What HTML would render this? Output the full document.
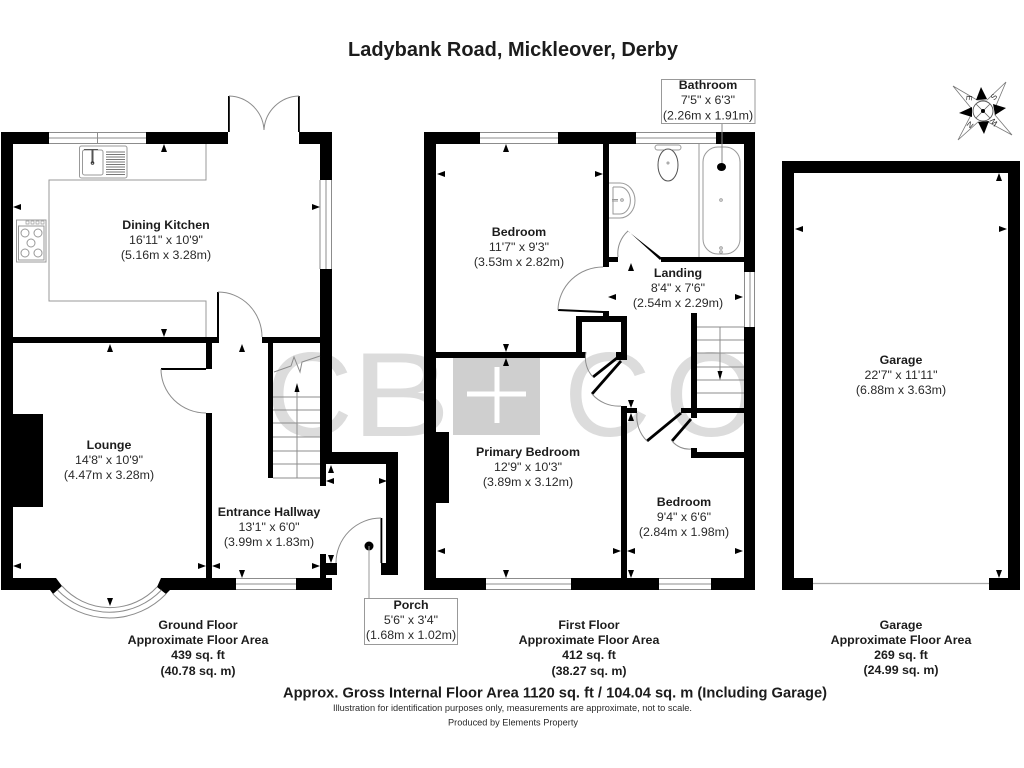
<!DOCTYPE html>
<html><head><meta charset="utf-8"><style>
html,body{margin:0;padding:0;background:#fff}
svg{display:block}
text{font-family:"Liberation Sans",sans-serif;font-size:12.4px;fill:#2a2a2a;text-anchor:middle;dominant-baseline:central}
.b{font-weight:bold;fill:#1c1c1c}
.w{font-size:120px;fill:#dcdcdc;text-anchor:start;dominant-baseline:auto}
.t{fill:none;stroke:#8c8c8c;stroke-width:1}
.g{fill:none;stroke:#999;stroke-width:1}
</style></head><body>
<svg width="1024" height="768" viewBox="0 0 1024 768" xmlns="http://www.w3.org/2000/svg">
<defs>
<polygon id="u" points="0,-4 3,4 -3,4" fill="#000"/>
<polygon id="d" points="0,4 3,-4 -3,-4" fill="#000"/>
<polygon id="l" points="-4,0 4,-3 4,3" fill="#000"/>
<polygon id="r" points="4,0 -4,-3 -4,3" fill="#000"/>
</defs>
<rect width="1024" height="768" fill="#fff"/>

<!-- watermark -->
<text class="w" x="266" y="436">C</text>
<text class="w" x="0" y="436" transform="translate(351 0) scale(1.25 1)">B</text>
<rect x="453" y="358" width="87" height="77" fill="#cfcfcf"/>
<rect x="467" y="391.500" width="59" height="5" fill="#fff"/>
<rect x="494.500" y="367" width="5" height="56" fill="#fff"/>
<text class="w" x="564" y="436">C</text>
<text class="w" x="665" y="436">O</text>

<!-- GROUND FLOOR -->
<g fill="#000">
<rect x="1" y="132" width="12" height="458"/>
<rect x="1" y="132" width="48" height="12"/>
<rect x="146" y="132" width="82" height="12"/>
<rect x="299" y="132" width="33" height="12"/>
<rect x="320" y="132" width="12" height="48"/>
<rect x="320" y="269" width="12" height="183"/>
<rect x="320" y="452" width="78" height="12"/>
<rect x="320" y="452" width="6" height="34"/>
<rect x="386" y="452" width="12" height="123"/>
<rect x="381" y="563" width="17" height="12"/>
<rect x="13" y="337" width="205" height="6"/>
<rect x="262" y="337" width="58" height="6"/>
<rect x="206" y="337" width="6" height="32"/>
<rect x="206" y="413" width="6" height="165"/>
<rect x="268" y="337" width="5" height="141"/>
<rect x="13" y="414" width="30" height="93"/>
<rect x="320" y="554" width="6" height="24"/>
<rect x="320" y="563" width="17" height="12"/>
<rect x="296" y="578" width="36" height="12"/>
<polygon points="1,578 56,578 62,586 53,594 50,590 1,590"/>
<polygon points="161,578 236,578 236,590 170,590 166,594 157,587"/>
<rect x="228" y="96" width="1.800" height="36"/>
<rect x="298" y="96" width="1.800" height="36"/>
<rect x="217" y="292" width="2" height="51"/>
<rect x="161" y="368" width="45" height="2"/>
<rect x="380.500" y="518" width="1.800" height="45"/>
</g>
<!-- ground windows -->
<g class="t">
<path d="M49 132.500H146M49 138H146M49 143.500H146M97.500 132V144"/>
<path d="M320 180V269M326 180V269M331.500 180V269"/>
<path d="M236 578.500H296M236 584H296M236 589.500H296"/>
<path d="M229 96A36 36 0 0 1 264 130M299 96A36 36 0 0 0 264 130"/>
<path d="M218 292A44 45 0 0 1 262 337"/>
<path d="M161 369A45 44 0 0 0 206 413"/>
<path d="M381 518A45 45 0 0 0 336 563"/>
<path d="M62 586A64 64 0 0 0 157 587M57.500 590A72 72 0 0 0 161.500 590M53 594A78.500 78.500 0 0 0 166 594"/>
</g>
<!-- units -->
<g class="g">
<path d="M206 144V180H49V301H206V337"/>
<rect x="79.500" y="146" width="47.500" height="32" rx="2"/>
<rect x="82.500" y="150" width="20.500" height="25" rx="2"/>
<rect x="16.500" y="220" width="29.500" height="42"/>
<rect x="18.500" y="226" width="25.500" height="34"/>
<circle cx="25" cy="233" r="4"/><circle cx="38" cy="233" r="4"/><circle cx="31" cy="243" r="4"/><circle cx="25" cy="253" r="4"/><circle cx="38" cy="253" r="4"/>
<path d="M26 221h3v3h-3zM31 221h3v3h-3zM36 221h3v3h-3zM41 221h3v3h-3z" stroke-width=".7"/>
<path d="M106 152H125M106 154.500H125M106 157H125M106 159.500H125M106 162H125M106 164.500H125M106 167H125M106 169.500H125M106 172H125M106 174.500H125" stroke="#777"/>
<path d="M84 149.500H98" stroke="#555"/>
<path d="M92.500 149V163" stroke="#555" stroke-width="2"/>
<circle cx="92.500" cy="163" r="1.300" stroke="#333"/>
</g>
<!-- ground stairs -->
<g class="t" stroke="#777">
<path d="M273 397H320M273 410H320M273 423H320M273 437H320M273 451H320M273 464H320M273 478H320"/>
<path d="M297 478V390"/>
<path d="M274 372L291 366L294 357L300 372L302 362L320 356"/>
</g>
<polygon points="297,383 294.500,392 299.500,392" fill="#000"/>
<circle cx="369" cy="546" r="4.500" fill="#000"/>
<path d="M369 546V598" stroke="#999"/>
<rect x="364.500" y="598.500" width="93" height="46" fill="#fff" stroke="#999"/>

<!-- FIRST FLOOR -->
<g fill="#000">
<rect x="424" y="132" width="12" height="458"/>
<rect x="424" y="132" width="56" height="12"/>
<rect x="558" y="132" width="78" height="12"/>
<rect x="716" y="132" width="39" height="12"/>
<rect x="744" y="132" width="11" height="140"/>
<rect x="744" y="327" width="11" height="263"/>
<rect x="424" y="578" width="62" height="12"/>
<rect x="571" y="578" width="88" height="12"/>
<rect x="711" y="578" width="44" height="12"/>
<rect x="603" y="144" width="6" height="123"/>
<rect x="603" y="257" width="15" height="5"/>
<rect x="661" y="257" width="83" height="5"/>
<polygon points="627,230 629,232 662,258 660,260"/>
<polygon points="558,309 603,311 603,313 558,311"/>
<rect x="603" y="311" width="6" height="6"/>
<rect x="576" y="316" width="51" height="6"/>
<rect x="576" y="316" width="6" height="42"/>
<rect x="621" y="316" width="6" height="44"/>
<rect x="436" y="352" width="150" height="6"/>
<rect x="616" y="352" width="11" height="8"/>
<rect x="621" y="406" width="6" height="172"/>
<rect x="621" y="408" width="16" height="5"/>
<rect x="681" y="408" width="63" height="5"/>
<rect x="691" y="313" width="6" height="105"/>
<rect x="691" y="448" width="6" height="10"/>
<rect x="691" y="452" width="53" height="6"/>
<rect x="436" y="432" width="13" height="71"/>
<polygon points="616,357 618,359 594,378 592,376"/>
<polygon points="620,360 622,362 593,395 591,393"/>
<polygon points="680,412 682,414 648,442 646,440"/>
<polygon points="690,418 692,420 673,442 671,440"/>
</g>
<g class="t">
<path d="M480 132.500H558M480 138H558M480 143.500H558"/>
<path d="M636 132.500H716M636 138H716M636 143.500H716"/>
<path d="M486 578.500H571M486 584H571M486 589.500H571"/>
<path d="M659 578.500H711M659 584H711M659 589.500H711"/>
<path d="M744.500 272V327M750 272V327M754.500 272V327"/>
<path d="M628 231A30 30 0 0 0 618 257"/>
<path d="M603 267A45 44 0 0 0 558 310"/>
<path d="M586 352A28 28 0 0 0 593 377"/>
<path d="M592 394A35 35 0 0 0 621 406"/>
<path d="M637 413A34 34 0 0 0 647 441"/>
<path d="M672 441A22 22 0 0 0 691 449"/>
<path d="M697 327H744M697 340H744M697 353H744M697 367H744M697 380H744M697 393H744"/>
<path d="M720 327V372"/>
</g>
<polygon points="720,380 717.500,371 722.500,371" fill="#000"/>
<!-- bathroom fixtures -->
<g class="g" stroke="#777">
<path d="M699 144V257"/>
<rect x="703" y="147" width="37" height="107" rx="15"/>
<rect x="655" y="145" width="26" height="5" rx="2.500"/>
<ellipse cx="668" cy="165" rx="10" ry="16" fill="#fff" stroke="#555"/>
<circle cx="668" cy="163" r="1"/>
<path d="M609 183H620A15 17.500 0 0 1 620 218H609"/>
<path d="M613 187H620A10 13 0 0 1 620 214H613V187"/>
<circle cx="622" cy="200" r="1.300"/><path d="M612 199.500H618M612 201H618"/>
<circle cx="721" cy="200" r="1.300"/><circle cx="721" cy="248" r="1.300"/><circle cx="721" cy="252" r="1.300"/>
</g>
<path d="M722 123V167" stroke="#888"/>
<ellipse cx="721.500" cy="167" rx="4.500" ry="4" fill="#000"/>
<rect x="661.500" y="79.500" width="93.500" height="44" fill="#fff" stroke="#999"/>

<!-- GARAGE -->
<g fill="#000">
<rect x="782" y="161" width="238" height="12"/>
<rect x="782" y="161" width="12" height="429"/>
<rect x="1008" y="161" width="12" height="429"/>
<rect x="782" y="578" width="31" height="12"/>
<rect x="989" y="578" width="31" height="12"/>
</g>
<path d="M813 583.500H989" stroke="#aaa" stroke-width="1.200"/>

<!-- compass -->
<polygon points="953,86 977,100 987,100 1006,82 995,108 995,115 1012,135 988,122 978,122 958,140 971,115 971,108" fill="#fff" stroke="#777" stroke-width=".8"/>
<circle cx="983" cy="111" r="10" fill="#fff" stroke="#555" stroke-width=".9"/>
<path d="M976 104L990 118M990 104L976 118" stroke="#666" stroke-width=".8"/>
<g fill="#000">
<polygon points="981,87 976,100 987,99"/>
<polygon points="1006,108 993,104 995,115"/>
<polygon points="984,134 978,122 989,121"/>
<polygon points="959,113 972,107 972,117"/>
<circle cx="983" cy="111" r="2"/>
</g>
<text x="969" y="98" style="font-size:8px" transform="rotate(95 969 98)">E</text>
<text x="994" y="97" style="font-size:8px" transform="rotate(-50 994 97)">S</text>
<text x="994" y="122" style="font-size:8px" transform="rotate(-130 994 122)">W</text>
<text x="970" y="125" style="font-size:8px" transform="rotate(40 970 125)">N</text>

<!-- dimension arrows -->
<use href="#u" x="164" y="148"/><use href="#d" x="164" y="333"/><use href="#l" x="17" y="207"/><use href="#r" x="316" y="207"/>
<use href="#u" x="110" y="348"/><use href="#l" x="17" y="566"/><use href="#r" x="202" y="566"/><use href="#d" x="110" y="602"/>
<use href="#u" x="242" y="348"/><use href="#l" x="216" y="566"/><use href="#r" x="316" y="566"/><use href="#d" x="242" y="574"/>
<use href="#u" x="331" y="469"/><use href="#l" x="330" y="481"/><use href="#r" x="383" y="481"/><use href="#d" x="331" y="559"/>
<use href="#u" x="506" y="148"/><use href="#l" x="441" y="174"/><use href="#r" x="599" y="174"/><use href="#d" x="506" y="348"/>
<use href="#u" x="631" y="267"/><use href="#l" x="612" y="297"/><use href="#r" x="739" y="297"/><use href="#d" x="631" y="404"/>
<use href="#u" x="506" y="362"/><use href="#l" x="441" y="551"/><use href="#r" x="617" y="551"/><use href="#d" x="506" y="574"/>
<use href="#u" x="631" y="417"/><use href="#l" x="631" y="551"/><use href="#r" x="739" y="551"/><use href="#d" x="631" y="574"/>
<use href="#u" x="999" y="177"/><use href="#l" x="799" y="229"/><use href="#r" x="1003" y="229"/><use href="#d" x="999" y="574"/>

<!-- labels -->
<text class="b" x="513" y="50" style="font-size:20px" textLength="330" lengthAdjust="spacingAndGlyphs">Ladybank Road, Mickleover, Derby</text>

<text class="b" x="166" y="225">Dining Kitchen</text><text x="166" y="240">16'11" x 10'9"</text><text x="166" y="255">(5.16m x 3.28m)</text>
<text class="b" x="109" y="445">Lounge</text><text x="109" y="460">14'8" x 10'9"</text><text x="109" y="475">(4.47m x 3.28m)</text>
<text class="b" x="269" y="512">Entrance Hallway</text><text x="269" y="527">13'1" x 6'0"</text><text x="269" y="542">(3.99m x 1.83m)</text>
<text class="b" x="411" y="605">Porch</text><text x="411" y="620">5'6" x 3'4"</text><text x="411" y="635">(1.68m x 1.02m)</text>
<text class="b" x="519" y="232">Bedroom</text><text x="519" y="247">11'7" x 9'3"</text><text x="519" y="262">(3.53m x 2.82m)</text>
<text class="b" x="678" y="273">Landing</text><text x="678" y="288">8'4" x 7'6"</text><text x="678" y="303">(2.54m x 2.29m)</text>
<text class="b" x="708" y="85">Bathroom</text><text x="708" y="100">7'5" x 6'3"</text><text x="708" y="115.500">(2.26m x 1.91m)</text>
<text class="b" x="528" y="452">Primary Bedroom</text><text x="528" y="467">12'9" x 10'3"</text><text x="528" y="482">(3.89m x 3.12m)</text>
<text class="b" x="684" y="502">Bedroom</text><text x="684" y="517">9'4" x 6'6"</text><text x="684" y="532">(2.84m x 1.98m)</text>
<text class="b" x="901" y="360">Garage</text><text x="901" y="375">22'7" x 11'11"</text><text x="901" y="390">(6.88m x 3.63m)</text>

<text class="b" x="198" y="625">Ground Floor</text><text class="b" x="198" y="640">Approximate Floor Area</text><text class="b" x="198" y="655">439 sq. ft</text><text class="b" x="198" y="671">(40.78 sq. m)</text>
<text class="b" x="589" y="625">First Floor</text><text class="b" x="589" y="640">Approximate Floor Area</text><text class="b" x="589" y="655">412 sq. ft</text><text class="b" x="589" y="671">(38.27 sq. m)</text>
<text class="b" x="901" y="625">Garage</text><text class="b" x="901" y="640">Approximate Floor Area</text><text class="b" x="901" y="655">269 sq. ft</text><text class="b" x="901" y="670">(24.99 sq. m)</text>

<text class="b" x="555" y="693" style="font-size:15px" textLength="544" lengthAdjust="spacingAndGlyphs">Approx. Gross Internal Floor Area 1120 sq. ft / 104.04 sq. m (Including Garage)</text>
<text x="512.500" y="708" style="font-size:9px" textLength="359" lengthAdjust="spacingAndGlyphs">Illustration for identification purposes only, measurements are approximate, not to scale.</text>
<text x="513" y="722.500" style="font-size:9px" textLength="130" lengthAdjust="spacingAndGlyphs">Produced by Elements Property</text>
</svg>
</body></html>
